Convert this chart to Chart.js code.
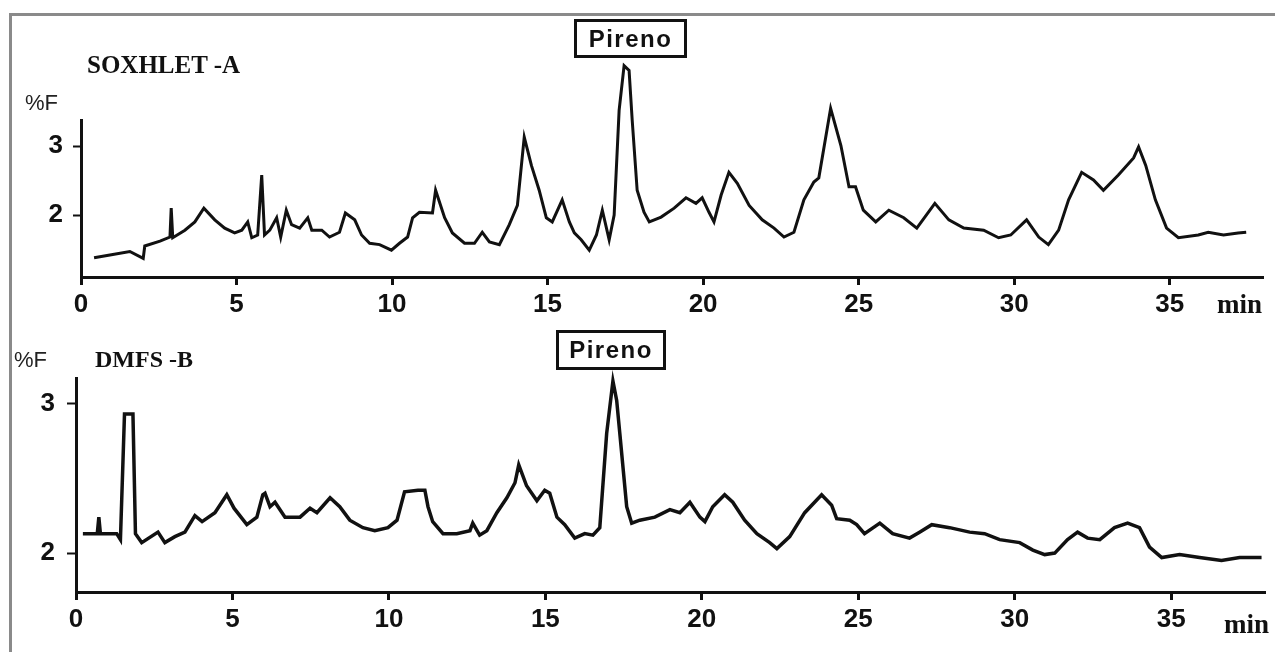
<!DOCTYPE html>
<html>
<head>
<meta charset="utf-8">
<script src="https://cdn.jsdelivr.net/npm/chart.js@4.4.1/dist/chart.umd.min.js"></script>
<style>
  html, body { margin: 0; padding: 0; background: #fff; }
  #page { position: relative; width: 1275px; height: 652px; overflow: hidden; background: #fff; }
  #frame { position: absolute; left: 9px; top: 13px; width: 1280px; height: 660px;
           border-top: 3px solid #8a8a8a; border-left: 3px solid #8a8a8a; }
  canvas { position: absolute; left: 0; }
  .title { position: absolute; font-family: "Liberation Serif", "Times New Roman", serif;
           font-weight: bold; color: #111; white-space: nowrap; line-height: 1; }
  .unit { position: absolute; font-family: "Liberation Sans", Arial, sans-serif;
          color: #222; white-space: nowrap; line-height: 1; }
  .peak { position: absolute; box-sizing: border-box; border: 3px solid #111;
          font-family: "Liberation Sans", Arial, sans-serif; font-weight: bold;
          font-size: 24px; letter-spacing: 1.5px; color: #111; text-align: center; }
</style>
</head>
<body>
<div id="page">
  <div id="frame"></div>
  <canvas id="soxhlet" width="1275" height="330" style="top:0"></canvas>
  <canvas id="dmfs" width="1275" height="322" style="top:330px"></canvas>

  <div class="title" style="left:87px; top:52px; font-size:25px;">SOXHLET -A</div>
  <div class="unit" style="left:25px; top:92px; font-size:22px;">%F</div>
  <div class="peak" style="left:574px; top:19px; width:113px; height:39px; line-height:33px;">Pireno</div>
  <div class="title" style="left:1217px; top:291px; font-size:27px;">min</div>

  <div class="title" style="left:95px; top:347px; font-size:24px;">DMFS -B</div>
  <div class="unit" style="left:14px; top:349px; font-size:22px;">%F</div>
  <div class="peak" style="left:556px; top:330px; width:110px; height:40px; line-height:34px;">Pireno</div>
  <div class="title" style="left:1224px; top:611px; font-size:27px;">min</div>
</div>

<script>
// retention time (min) and fluorescence (%F)
const soxTime = [0.42, 0.93, 1.57, 2.0, 2.05, 2.54, 2.86, 2.9, 2.95, 3.34, 3.66, 3.95, 4.3, 4.62, 4.94,
  5.17, 5.36, 5.49, 5.68, 5.81, 5.9, 6.07, 6.29, 6.42, 6.6, 6.77, 7.03, 7.29, 7.42, 7.74, 7.99, 8.31,
  8.5, 8.8, 9.02, 9.28, 9.6, 9.98, 10.24, 10.5, 10.66, 10.88, 11.3, 11.4, 11.69, 11.94, 12.33, 12.65,
  12.9, 13.13, 13.45, 13.77, 14.03, 14.25, 14.48, 14.73, 14.96, 15.15, 15.47, 15.7, 15.86, 16.08,
  16.34, 16.57, 16.76, 16.98, 17.14, 17.3, 17.46, 17.62, 17.72, 17.88, 18.1, 18.27, 18.65, 19.07,
  19.45, 19.77, 19.97, 20.19, 20.35, 20.58, 20.83, 21.1, 21.48, 21.9, 22.28, 22.6, 22.92, 23.24,
  23.56, 23.72, 24.1, 24.43, 24.69, 24.9, 25.15, 25.55, 25.97, 26.45, 26.87, 27.45, 27.9, 28.38,
  29.02, 29.5, 29.89, 30.4, 30.79, 31.1, 31.43, 31.75, 32.17, 32.55, 32.87, 33.35, 33.84, 34.0,
  34.23, 34.54, 34.9, 35.28, 35.92, 36.24, 36.73, 37.2, 37.46];
const soxSignal = [1.38, 1.42, 1.47, 1.37, 1.55, 1.62, 1.68, 2.10, 1.67, 1.78, 1.90, 2.10, 1.93, 1.81, 1.74,
  1.78, 1.90, 1.67, 1.71, 2.58, 1.71, 1.78, 1.96, 1.68, 2.07, 1.86, 1.81, 1.96, 1.78, 1.78, 1.68, 1.75,
  2.03, 1.93, 1.71, 1.59, 1.57, 1.49, 1.59, 1.68, 1.96, 2.04, 2.03, 2.36, 1.96, 1.74, 1.59, 1.59,
  1.75, 1.61, 1.57, 1.86, 2.14, 3.13, 2.72, 2.36, 1.96, 1.90, 2.22, 1.90, 1.74, 1.64,
  1.49, 1.71, 2.07, 1.64, 2.0, 3.52, 4.17, 4.10, 3.38, 2.36, 2.04, 1.90, 1.97, 2.10,
  2.25, 2.17, 2.25, 2.04, 1.90, 2.29, 2.62, 2.46, 2.14, 1.93, 1.81, 1.68, 1.75, 2.22,
  2.48, 2.54, 3.55, 3.01, 2.41, 2.41, 2.07, 1.90, 2.07, 1.96, 1.81, 2.17, 1.93, 1.81,
  1.78, 1.67, 1.71, 1.93, 1.68, 1.57, 1.78, 2.22, 2.62, 2.51, 2.36, 2.58, 2.83, 2.99,
  2.72, 2.22, 1.81, 1.67, 1.71, 1.75, 1.71, 1.74, 1.75];

const dmfsTime = [0.22, 0.68, 0.73, 0.78, 1.3, 1.42, 1.55, 1.82, 1.9, 2.1, 2.62, 2.84, 3.16, 3.48, 3.8, 4.03,
  4.44, 4.82, 5.05, 5.46, 5.78, 5.97, 6.04, 6.2, 6.36, 6.68, 7.16, 7.48, 7.7, 8.12, 8.43, 8.75, 9.17,
  9.55, 9.97, 10.26, 10.5, 10.93, 11.15, 11.25, 11.4, 11.73, 12.17, 12.59, 12.68, 12.9, 13.13, 13.45,
  13.77, 14.03, 14.15, 14.4, 14.73, 14.98, 15.14, 15.37, 15.62, 15.94, 16.26, 16.52, 16.74, 16.96,
  17.16, 17.28, 17.38, 17.6, 17.76, 18.02, 18.5, 18.98, 19.3, 19.62, 19.94, 20.1, 20.35, 20.73,
  20.99, 21.37, 21.76, 22.17, 22.4, 22.81, 23.29, 23.83, 24.15, 24.31, 24.73, 24.95, 25.2, 25.69,
  26.1, 26.64, 26.96, 27.35, 27.92, 28.56, 29.04, 29.52, 30.16, 30.58, 30.96, 31.28, 31.69, 32.01,
  32.33, 32.72, 33.19, 33.61, 33.99, 34.31, 34.7, 35.27, 35.91, 36.61, 37.19, 37.89];
const dmfsSignal = [2.13, 2.13, 2.24, 2.13, 2.13, 2.09, 2.93, 2.93, 2.13, 2.07, 2.14, 2.07, 2.11, 2.14, 2.25, 2.21,
  2.27, 2.39, 2.30, 2.19, 2.24, 2.39, 2.40, 2.31, 2.34, 2.24, 2.24, 2.30, 2.27, 2.37, 2.31, 2.22, 2.17,
  2.15, 2.17, 2.22, 2.41, 2.42, 2.42, 2.31, 2.21, 2.13, 2.13, 2.15, 2.20, 2.12, 2.15, 2.27,
  2.37, 2.47, 2.59, 2.45, 2.35, 2.42, 2.40, 2.24, 2.19, 2.10, 2.13, 2.12, 2.17, 2.80,
  3.15, 3.02, 2.80, 2.31, 2.20, 2.22, 2.24, 2.29, 2.27, 2.34, 2.24, 2.21, 2.31, 2.39,
  2.34, 2.22, 2.13, 2.07, 2.03, 2.11, 2.27, 2.39, 2.32, 2.23, 2.22, 2.19, 2.13, 2.20,
  2.13, 2.10, 2.14, 2.19, 2.17, 2.14, 2.13, 2.09, 2.07, 2.02, 1.99, 2.0, 2.09, 2.14,
  2.10, 2.09, 2.17, 2.20, 2.17, 2.04, 1.97, 1.99, 1.97, 1.95, 1.97, 1.97];

const timeTicks = [0, 5, 10, 15, 20, 25, 30, 35];
const signalTicks = [2, 3];

const tickFont = { family: '"Liberation Sans Narrow", "Arial Narrow", "Liberation Sans", Arial, sans-serif',
  size: 26, weight: 'bold' };

function toPoints(xs, ys) {
  return xs.map((x, i) => ({ x: x, y: ys[i] }));
}

function makeChart(id, xs, ys, opts) {
  const ctx = document.getElementById(id);
  return new Chart(ctx, {
    type: 'line',
    data: {
      datasets: [{
        data: toPoints(xs, ys),
        borderColor: '#111',
        borderWidth: opts.lineWidth,
        pointRadius: 0,
        tension: 0,
        clip: false,
      }],
    },
    options: {
      responsive: false,
      animation: false,
      events: [],
      layout: { padding: opts.padding },
      plugins: { legend: { display: false }, tooltip: { enabled: false } },
      scales: {
        x: {
          type: 'linear',
          min: 0,
          max: 38,
          afterBuildTicks: (scale) => { scale.ticks = timeTicks.map(v => ({ value: v })); },
          afterFit: (scale) => { scale.height = 40; },
          border: { display: true, color: '#111', width: 3 },
          grid: { drawOnChartArea: false, drawTicks: true, tickLength: 8, tickColor: '#111', tickWidth: 3 },
          ticks: { font: tickFont, color: '#111', padding: 4, maxRotation: 0 },
        },
        y: {
          min: opts.yMin,
          max: opts.yMax,
          afterBuildTicks: (scale) => { scale.ticks = signalTicks.map(v => ({ value: v })); },
          afterFit: (scale) => { scale.width = 45; },
          border: { display: true, color: '#111', width: 3 },
          grid: { drawOnChartArea: false, drawTicks: true, tickLength: opts.tickLen, tickColor: '#111', tickWidth: 2 },
          ticks: { font: tickFont, color: '#111', padding: opts.tickPad },
        },
      },
    },
  });
}

makeChart('soxhlet', soxTime, soxSignal, {
  padding: { left: 36, right: 12, top: 120, bottom: 13 },
  yMin: 1.10, yMax: 3.38, tickLen: 8, tickPad: 10, lineWidth: 3,
});

makeChart('dmfs', dmfsTime, dmfsSignal, {
  padding: { left: 31, right: 10, top: 48, bottom: 20 },
  yMin: 1.74, yMax: 3.17, tickLen: 9, tickPad: 12, lineWidth: 3.5,
});
</script>
</body>
</html>
